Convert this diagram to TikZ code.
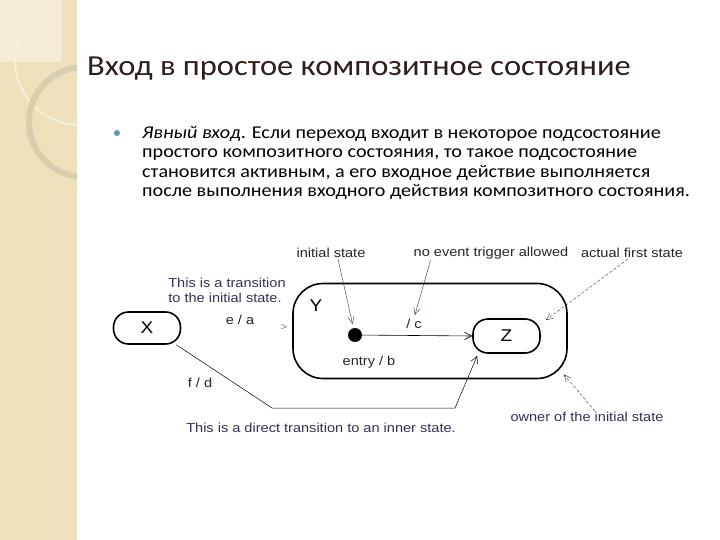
\documentclass[tikz,border=0pt]{standalone}
\usepackage{fontspec}
\setmainfont{Carlito}[FakeStretch=1.12]
\newfontfamily\diagfont{Liberation Sans}[FakeStretch=1.12]
\usetikzlibrary{arrows.meta,positioning}
\definecolor{strip}{RGB}{237,224,187}
\definecolor{stripLight}{RGB}{244,236,212}
\definecolor{titleInk}{RGB}{45,30,25}
\definecolor{bulletBlue}{RGB}{95,150,180}
\definecolor{noteInk}{RGB}{50,50,85}

\begin{document}
\begin{tikzpicture}[x=1pt,y=-1pt,
  state/.style={draw, line width=1.6pt, rounded corners=15pt, minimum width=67pt,
                minimum height=32pt, inner sep=0pt, font=\diagfont\fontsize{17}{18}\selectfont},
  lbl/.style={font=\diagfont\fontsize{13}{15}\selectfont, inner sep=1pt, text=black!85},
  note/.style={lbl, text=noteInk},
  trans/.style={-{Straight Barb[length=2.5mm,width=2.6mm]}, line width=0.6pt},
  pointer/.style={-{Straight Barb[length=2.5mm,width=2.2mm]}, line width=0.4pt, draw=noteInk},
  dashpointer/.style={pointer, densely dashed}
]
  \useasboundingbox (0,0) rectangle (720,540);
  \fill[white] (0,0) rectangle (720,540);
  \fill[strip] (0,0) rectangle (77,540);
  \fill[stripLight] (0,0) rectangle (62,62);
  \begin{scope}
    \clip (0,0) rectangle (77,540);
    \draw[white!45!strip, line width=2pt] (80,60) circle (65);
    \draw[strip!80!gray, line width=6pt] (84,122) circle (55);
  \end{scope}

  \node[anchor=base west, inner sep=0pt, text=titleInk,
        font=\fontsize{29}{36}\selectfont] (title) at (87,76)
        {Вход в простое композитное состояние};
  \fill[bulletBlue] (117,133) circle (3);
  \node[anchor=north west, align=left, inner sep=0pt,
        font=\fontsize{18}{19.5}\selectfont] (body) at (142,126)
        {\textit{Явный вход}. Если переход входит в некоторое подсостояние\\
         простого композитного состояния, то такое подсостояние\\
         становится активным, а его входное действие выполняется\\
         после выполнения входного действия композитного состояния.};

  \node[state] (X) at (147,328) {X};
  \node[draw, line width=1.6pt, rounded corners=30pt, minimum width=274pt,
        minimum height=95pt] (Y) at (430,331) {};
  \node[state, minimum height=34pt] (Z) at (506.5,336) {Z};
  \node[circle, fill, inner sep=0pt, minimum size=14pt] (init) at (355,335) {};
  \node[font=\diagfont\fontsize{17}{18}\selectfont] (ylbl) at (316,306) {Y};

  \node[lbl] (initlbl) at (331,253) {initial state};
  \node[lbl] (noevlbl) at (491,253) {no event trigger allowed};
  \node[lbl] (firstlbl) at (632,253) {actual first state};
  \node[note, align=left] (tonote) at (227,290) {This is a transition\\to the initial state.};
  \node[lbl] (ea) at (240,320) {e / a};
  \node[text=gray, font=\diagfont] (xtip) at (284,328) {>};
  \node[lbl] (c) at (414,324) {/ c};
  \node[lbl] (entry) at (369,362) {entry / b};
  \node[lbl] (fd) at (200,383) {f / d};
  \node[note] (directnote) at (321,428) {This is a direct transition to an inner state.};
  \node[note] (ownerlbl) at (587,417) {owner of the initial state};

  \coordinate (fdown) at (272,408);
  \coordinate (fright) at (455,408);

  \draw[trans] (init) -- (Z.west);
  \draw[trans, line width=0.5pt] ([xshift=-5pt]X.south east) -- (fdown) -- (fright)
        -- ([xshift=5pt,yshift=-2pt]Z.south west);
  \draw[pointer, shorten >=4pt] ([xshift=7pt]initlbl.south) -- (init);
  \draw[pointer, shorten >=3pt] ([xshift=18pt]noevlbl.south west) -- (c.north);
  \draw[dashpointer] ([xshift=-4pt]firstlbl.south) -- ([shift={(5,2)}]Z.north east);
  \draw[dashpointer] ([xshift=8pt]ownerlbl.north) -- ([shift={(-4,-5)}]Y.south east);
\end{tikzpicture}
\end{document}
